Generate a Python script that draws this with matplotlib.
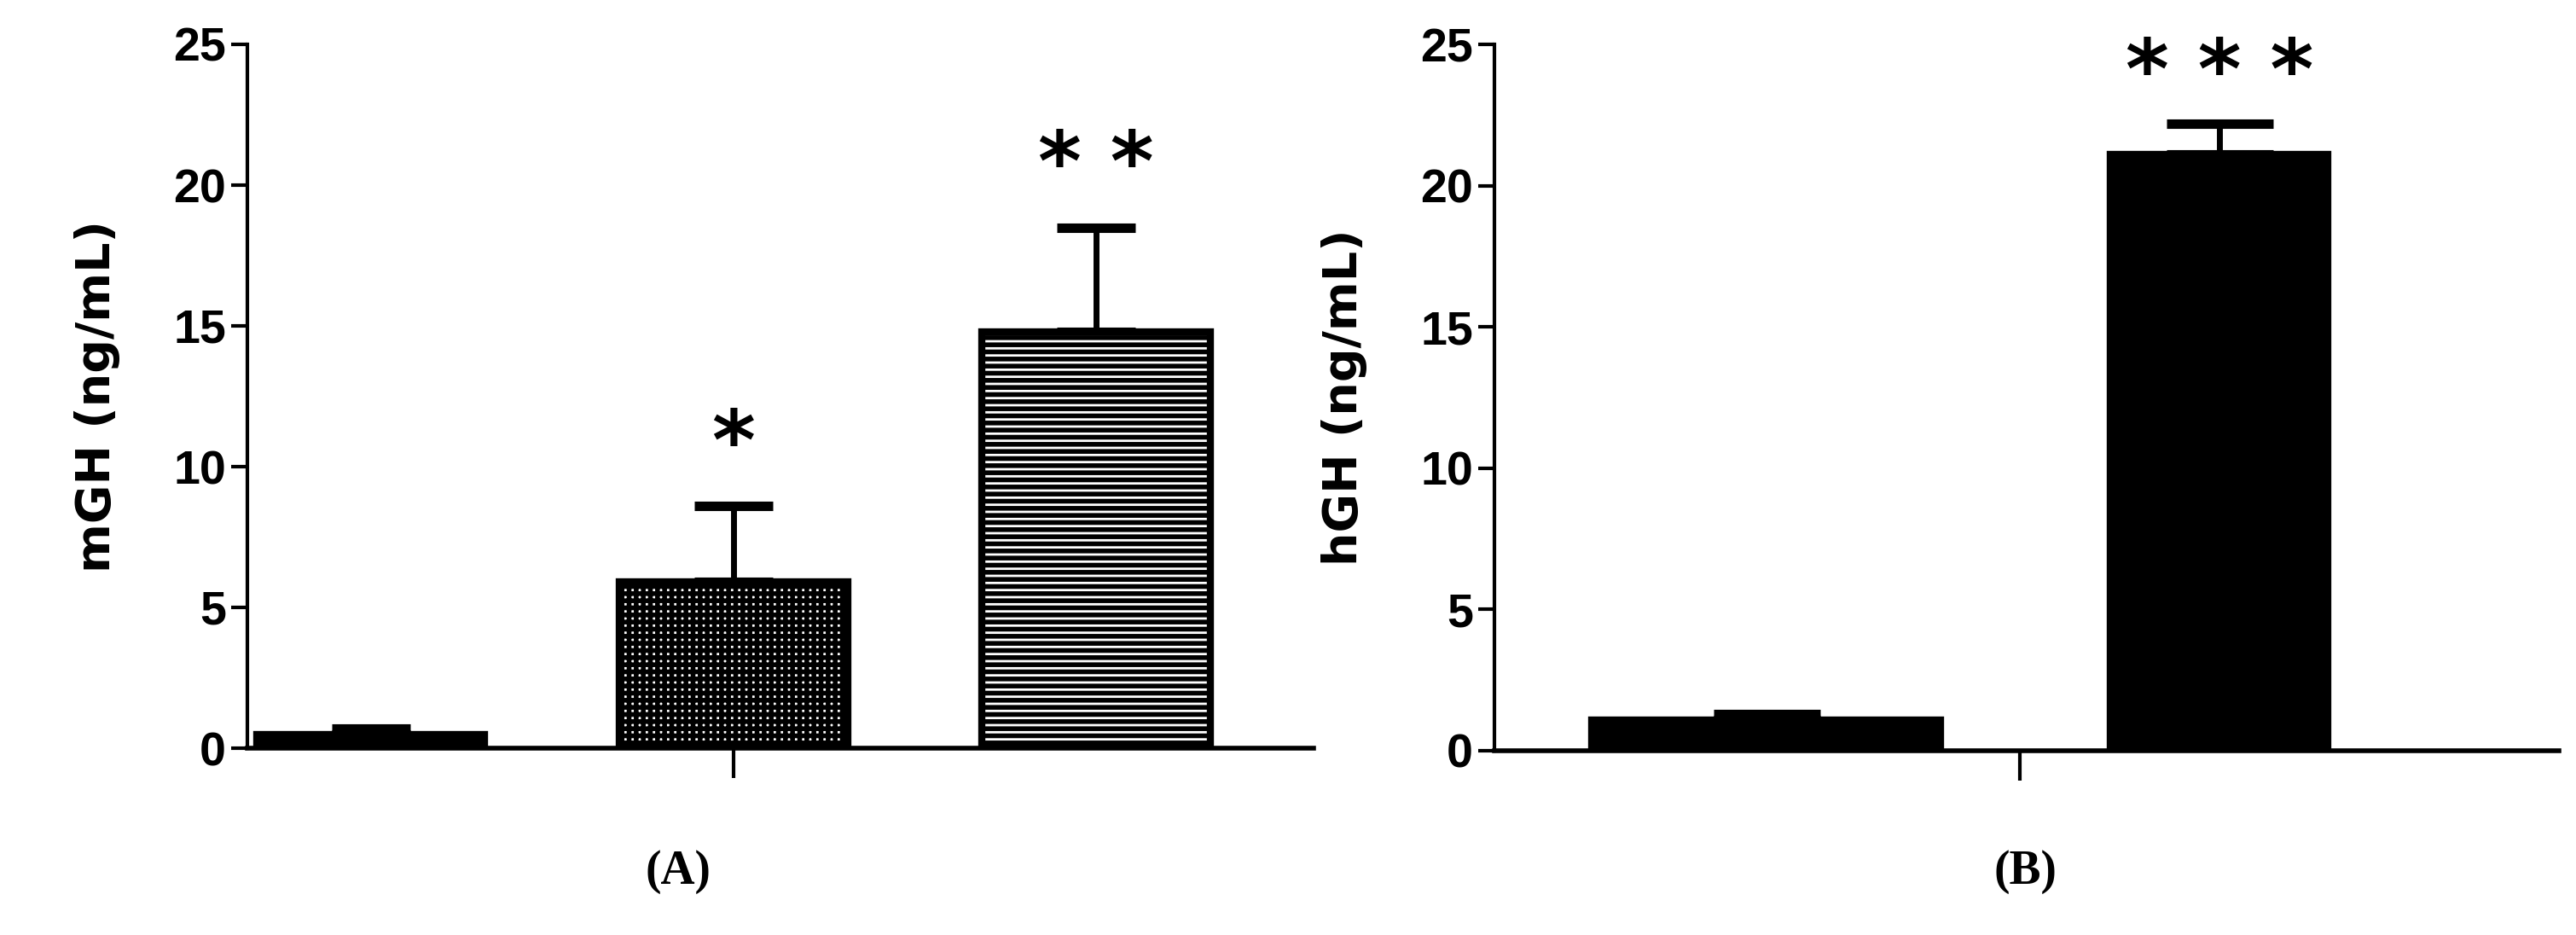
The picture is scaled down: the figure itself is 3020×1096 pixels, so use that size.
import numpy as np
import matplotlib.pyplot as plt

plt.rcParams['hatch.linewidth'] = 4

# panel A
a_means = [0.5, 5.9, 14.8]
a_errs = [0.2, 2.7, 3.7]
a_stars = ['', '*', '* *']
a_hatch = ['+++', '++', '--']
# panel B
b_means = [1.1, 21.1]
b_errs = [0.2, 1.1]
b_stars = ['', '* * *']
b_hatch = ['+++', '+++']
b_widths = [0.77, 0.48]

fig = plt.figure(figsize=(30.2, 10.96), dpi=100)
axA = fig.add_axes([290/3020, 1-877/1096, 1250/3020, 825/1096])
axB = fig.add_axes([1752/3020, 1-880/1096, 1248/3020, 828/1096])

tick_font = dict(family='Liberation Sans', weight='bold', size=40)


def style(ax, label):
    ax.set_ylim(0, 25)
    ax.set_yticks([0, 5, 10, 15, 20, 25])
    ax.set_yticklabels(['0', '5', '10', '15', '20', '25'], fontdict=tick_font)
    for s in ['top', 'right']:
        ax.spines[s].set_visible(False)
    ax.spines['left'].set_linewidth(3)
    ax.spines['bottom'].set_linewidth(4)
    ax.tick_params(axis='y', width=3, length=14, pad=4)
    ax.tick_params(axis='x', width=3, length=25, direction='out', labelbottom=False)
    ax.set_ylabel(label, fontdict=dict(family='DejaVu Sans', weight='bold', size=40), labelpad=45)


xa = np.arange(3)
axA.bar(xa, a_means, width=0.63, color='white', edgecolor='black',
        linewidth=6, hatch=a_hatch, zorder=2)
axA.errorbar(xa, a_means, yerr=[np.zeros(3), a_errs], fmt='none', ecolor='black',
             elinewidth=5, capsize=33, capthick=8, zorder=1)
for x, m, e, s in zip(xa, a_means, a_errs, a_stars):
    axA.text(x, m + e + 0.7, s, ha='center', va='bottom', fontsize=70, fontweight='bold')
axA.set_xlim(-0.34, 2.6)
axA.set_xticks([1])
style(axA, 'mGH (ng/mL)')

xb = np.arange(2)
axB.bar(xb, b_means, width=b_widths, color='white', edgecolor='black',
        linewidth=6, hatch=b_hatch, zorder=2)
axB.errorbar(xb, b_means, yerr=[np.zeros(2), b_errs], fmt='none', ecolor='black',
             elinewidth=5, capsize=45, capthick=8, zorder=1)
for x, m, e, s in zip(xb, b_means, b_errs, b_stars):
    axB.text(x, m + e + 0.3, s, ha='center', va='bottom', fontsize=70, fontweight='bold')
axB.set_xlim(-0.6, 1.75)
axB.set_xticks([0.56])
style(axB, 'hGH (ng/mL)')

fig.text(795/3020, 1-1022/1096, '(A)', ha='center', va='center',
         family='Liberation Serif', weight='bold', size=40)
fig.text(2375/3020, 1-1022/1096, '(B)', ha='center', va='center',
         family='Liberation Serif', weight='bold', size=40)

fig.savefig('out.png', dpi=100)
